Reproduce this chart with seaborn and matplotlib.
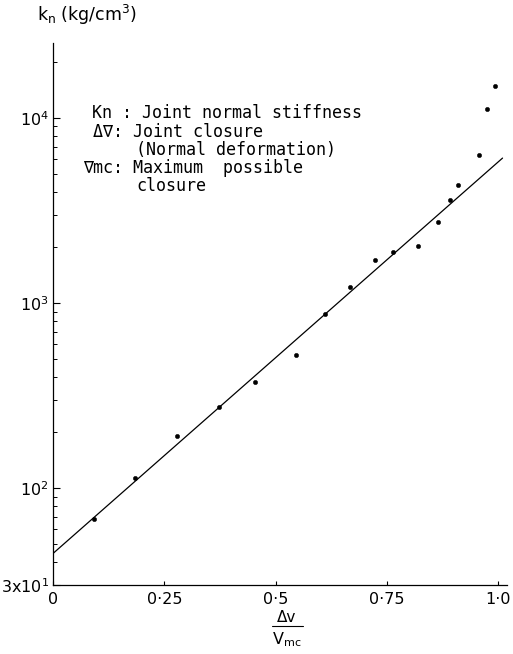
import numpy as np
import pandas as pd
import matplotlib
matplotlib.use("Agg")
import matplotlib.pyplot as plt
from matplotlib.lines import Line2D
from matplotlib.ticker import FixedLocator, FixedFormatter, LogLocator, NullFormatter
import seaborn as sns

# ---- data ----
closure_ratio = [0.092, 0.184, 0.279, 0.374, 0.454, 0.545, 0.612, 0.668, 0.723,
                 0.763, 0.820, 0.864, 0.893, 0.910, 0.958, 0.975, 0.994]
stiffness = [68, 113, 191, 273, 374, 523, 869, 1225, 1714,
             1888, 2042, 2750, 3605, 4346, 6340, 11220, 14890]
fit_x = [0.0, 1.01]
fit_y = [44.4, 6070]

y_ticks = [30, 100, 1000, 10000]
y_ticklabels = ["3x10$^1$", "10$^2$", "10$^3$", "10$^4$"]
x_ticks = [0, 0.25, 0.5, 0.75, 1.0]
x_ticklabels = ["0", "0·25", "0·5", "0·75", "1·0"]

legend_lines = [
    ("Kn : Joint normal stiffness", 92, 113),
    ("\u0394\u2207: Joint closure", 93, 132),
    ("(Normal deformation)", 136, 150),
    ("\u2207mc: Maximum  possible", 83, 168),
    ("closure", 136, 186),
]

sns.set_style("ticks")
plt.rcParams["font.family"] = ["DejaVu Sans"]
plt.rcParams["mathtext.default"] = "regular"
for k in ["text.color", "axes.labelcolor", "xtick.color", "ytick.color", "axes.edgecolor"]:
    plt.rcParams[k] = "black"

W, H = 513, 654
fig = plt.figure(figsize=(W / 100, H / 100), dpi=100)
ax = fig.add_axes([53 / W, 1 - 585 / H, (507 - 53) / W, (585 - 43) / H])

pts = pd.DataFrame({"x": closure_ratio, "y": stiffness})
fit = pd.DataFrame({"x": fit_x, "y": fit_y})

sns.lineplot(data=fit, x="x", y="y", ax=ax, color="black", linewidth=0.9)
sns.scatterplot(data=pts, x="x", y="y", ax=ax, color="black", s=10,
                edgecolor="black", linewidth=0.3, zorder=3)

ax.set_yscale("log")
ax.set_xlim(0, 1.02)
ax.set_ylim(30, 25400)

ax.yaxis.set_major_locator(FixedLocator(y_ticks))
ax.yaxis.set_major_formatter(FixedFormatter(y_ticklabels))
ax.yaxis.set_minor_locator(LogLocator(base=10, subs=np.arange(2, 10)))
ax.yaxis.set_minor_formatter(NullFormatter())
ax.xaxis.set_major_locator(FixedLocator(x_ticks))
ax.xaxis.set_major_formatter(FixedFormatter(x_ticklabels))

ax.tick_params(axis="y", which="major", direction="in", length=5, width=0.8,
               labelsize=11.5, pad=3)
ax.tick_params(axis="y", which="minor", direction="in", length=3, width=0.7)
ax.tick_params(axis="x", which="major", direction="in", length=3, width=0.8,
               labelsize=11.5, pad=5)

sns.despine(ax=ax)
for s in ["left", "bottom"]:
    ax.spines[s].set_linewidth(0.9)
    ax.spines[s].set_color("black")

ax.set_xlabel("")
ax.set_ylabel("")

# y-axis title
fig.text(37 / W, 1 - 15 / H, "k$_n$ (kg/cm$^3$)", fontsize=12.5, ha="left", va="center")

# x-axis title as a fraction
fig.text(287 / W, 1 - 617 / H, "\u0394v", fontsize=11, ha="center", va="center")
fig.add_artist(Line2D([272 / W, 303 / W], [1 - 626 / H, 1 - 626 / H],
                      color="black", linewidth=0.8, transform=fig.transFigure))
fig.text(287 / W, 1 - 640 / H, "V$_{mc}$", fontsize=11.5, ha="center", va="center")

# annotation block
for txt, px, py in legend_lines:
    fig.text(px / W, 1 - py / H, txt, fontsize=12, ha="left", va="center",
             family=["DejaVu Sans Mono", "DejaVu Sans"])

fig.savefig("out.png", dpi=100, facecolor="white")
